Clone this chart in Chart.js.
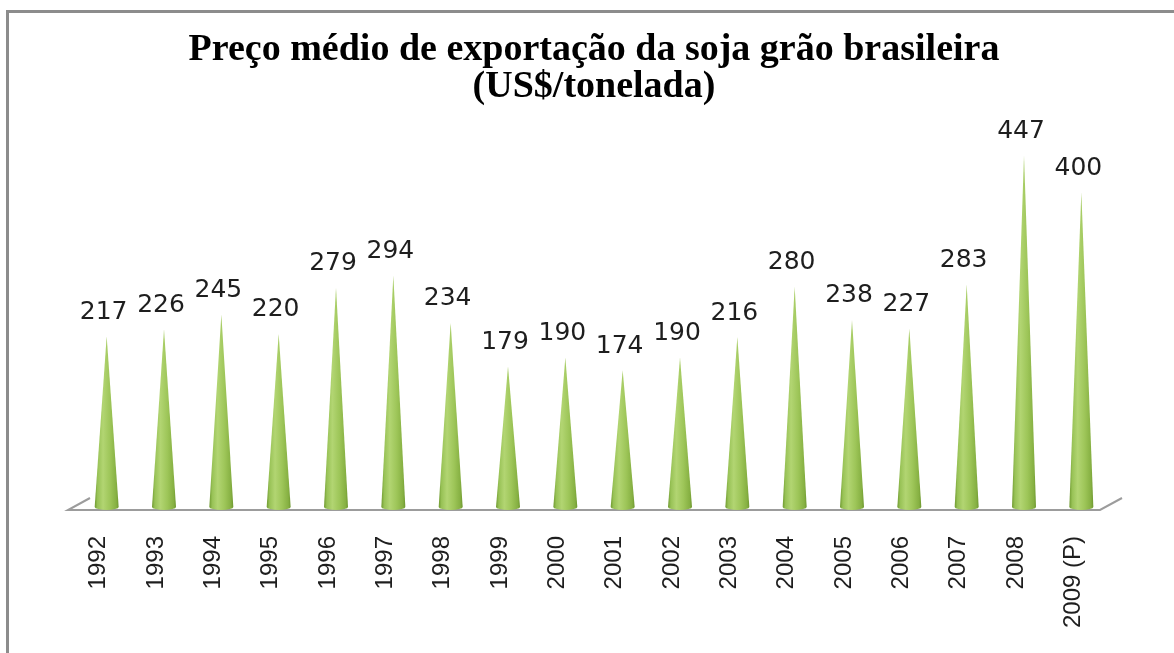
<!DOCTYPE html>
<html>
<head>
<meta charset="utf-8">
<title>Preço médio de exportação da soja grão brasileira</title>
<script src="https://cdn.jsdelivr.net/npm/chart.js@4.4.0/dist/chart.umd.min.js"></script>
<style>
  html, body { margin: 0; padding: 0; background: #fff; overflow: hidden; }
  #wrap { position: relative; width: 1174px; height: 653px; }
  #frame { position: absolute; left: 6px; top: 10px; width: 1300px; height: 800px;
           border: 3px solid #8c8c8c; box-sizing: border-box; pointer-events: none; }
  canvas { position: absolute; left: 0; top: 0; }
</style>
</head>
<body>
<div id="wrap">
  <canvas id="chart" width="1174" height="653"></canvas>
  <div id="frame"></div>
</div>
<script>
// dados (US$/tonelada)
const years = ["1992", "1993", "1994", "1995", "1996", "1997", "1998", "1999", "2000",
  "2001", "2002", "2003", "2004", "2005", "2006", "2007", "2008", "2009 (P)"];
const prices = [217, 226, 245, 220, 279, 294, 234, 179, 190, 174, 190, 216, 280, 238, 227, 283, 447, 400];
const titleLines = ["Preço médio de exportação da soja grão brasileira", "(US$/tonelada)"];

// narrow font if we have one, else plain sans a bit smaller
function hasFont(name) {
  const c = document.createElement("canvas").getContext("2d");
  c.font = "40px monospace";
  const w0 = c.measureText("2009 (P) abc").width;
  c.font = "40px '" + name + "', monospace";
  return c.measureText("2009 (P) abc").width !== w0;
}
const tickFont = hasFont("Liberation Sans Narrow")
  ? { family: "'Liberation Sans Narrow'", size: 28 }
  : { family: "'Liberation Sans', Arial, sans-serif", size: 24 };

/*===== CONES + FLOOR + LABELS =====*/
const conePlugin = {
  id: "cones",
  afterDatasetsDraw(chart) {
    const ctx = chart.ctx;
    const meta = chart.getDatasetMeta(0);
    const xs = chart.scales.x;
    const base = chart.scales.y.getPixelForValue(0);

    ctx.save();
    // 3d floor edge
    ctx.strokeStyle = "#9c9c9c";
    ctx.lineWidth = 2;
    ctx.beginPath();
    ctx.moveTo(xs.left + 12, base - 9);
    ctx.lineTo(xs.left - 10, base + 3);
    ctx.lineTo(xs.right - 10, base + 3);
    ctx.lineTo(xs.right + 12, base - 9);
    ctx.stroke();

    meta.data.forEach((bar, i) => {
      const x = bar.x, top = bar.y, r = 12;
      const g = ctx.createLinearGradient(x - r, 0, x + r, 0);
      g.addColorStop(0, "#6f9a30");
      g.addColorStop(0.12, "#98c256");
      g.addColorStop(0.35, "#b2d572");
      g.addColorStop(0.65, "#9dc558");
      g.addColorStop(0.9, "#86b042");
      g.addColorStop(1, "#6e9830");
      ctx.fillStyle = g;
      ctx.beginPath();
      ctx.moveTo(x, top);
      ctx.lineTo(x + r, base);
      ctx.ellipse(x, base, r, 3, 0, 0, Math.PI);
      ctx.closePath();
      ctx.fill();

      ctx.fillStyle = "#1e1e1e";
      ctx.font = "25px 'DejaVu Sans'";
      ctx.textAlign = "center";
      ctx.textBaseline = "middle";
      ctx.fillText(prices[i], x - 3, top - 24);
    });
    ctx.restore();
  }
};

const ctx = document.getElementById("chart").getContext("2d");
new Chart(ctx, {
  type: "bar",
  data: {
    labels: years,
    datasets: [{
      data: prices,
      backgroundColor: "rgba(0,0,0,0)",
      borderWidth: 0
    }]
  },
  options: {
    responsive: false,
    animation: false,
    devicePixelRatio: 1,
    layout: { padding: { left: 78, right: 64, top: 0, bottom: 0 } },
    plugins: {
      legend: { display: false },
      tooltip: { enabled: false },
      title: {
        display: true,
        text: titleLines,
        color: "#000",
        font: { family: "'Liberation Serif', 'Times New Roman', serif", size: 38, weight: "bold", lineHeight: 0.97 },
        padding: { top: 32, bottom: 8 }
      }
    },
    scales: {
      y: { display: false, min: 0, max: 500 },
      x: {
        grid: { display: false, drawTicks: false },
        border: { display: false },
        afterFit(scale) { scale.height = 146; },
        ticks: {
          color: "#1e1e1e",
          minRotation: 90,
          maxRotation: 90,
          padding: 29,
          labelOffset: -8,
          font: tickFont
        }
      }
    }
  },
  plugins: [conePlugin]
});
</script>
</body>
</html>
